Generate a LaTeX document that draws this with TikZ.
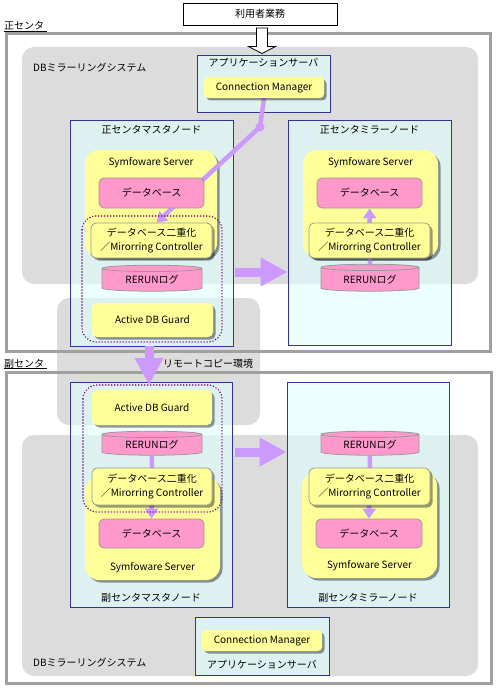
\documentclass[tikz,border=0pt]{standalone}
\usepackage{fontspec}
\setmainfont{Noto Sans CJK JP}
\usetikzlibrary{positioning,arrows.meta,shapes.geometric,shadows}
\definecolor{regiongray}{HTML}{DCDCDC}
\definecolor{framegray}{HTML}{A0A0A0}
\definecolor{hostblue}{HTML}{333399}
\definecolor{hostcyan}{HTML}{E0FFFF}
\definecolor{softyellow}{HTML}{FFFF99}
\definecolor{dbpink}{HTML}{FF99CC}
\definecolor{flowviolet}{HTML}{CC99FF}
\definecolor{guardviolet}{HTML}{800080}
\pgfdeclarelayer{back}
\pgfdeclarelayer{mid}
\pgfsetlayers{back,mid,main}
\begin{document}
\begin{tikzpicture}[x=1pt,y=-1pt,
    every node/.style={font=\fontsize{10}{14}\selectfont,inner sep=0pt},
    region/.style={fill=regiongray,rounded corners=12pt},
    site/.style={draw=framegray,line width=3pt},
    host/.style={draw=hostblue,line width=0.8pt,fill=hostcyan,fill opacity=0.6},
    ybox/.style={fill=softyellow,rounded corners=#1,
      drop shadow={shadow xshift=2.5pt,shadow yshift=-2.5pt,fill=black,opacity=0.4}},
    ybox/.default=5pt,
    dbbox/.style={fill=dbpink,draw=black!40,line width=0.8pt,rounded corners=5pt},
    log/.style={cylinder,shape border rotate=90,aspect=0.12,draw=black!40,line width=0.8pt,
      cylinder uses custom fill,cylinder body fill=dbpink,cylinder end fill=dbpink},
    guard/.style={draw=guardviolet,line width=1.6pt,dash pattern=on 0pt off 3pt,line cap=round,rounded corners=14pt},
    flow/.style={draw=flowviolet,line width=4.5pt,-{Triangle[length=10pt,width=13pt]}},
    bulk/.style={draw=flowviolet,line width=9pt,-{Triangle[length=27pt,width=27pt]}}]
  \useasboundingbox (0,0) rectangle (499,690);
  \begin{pgfonlayer}{back}
  % gray areas
  \fill[region] (22,47) rectangle (478,284);
  \fill[region] (57,298) rectangle (260,425);
  \fill[region] (22,435) rectangle (478,676);
  \draw[site] (6.5,33.5) rectangle (490.5,351.5);
  \draw[site] (6.5,372.5) rectangle (491,683.5);
  \node[anchor=base west] (siteA) at (4,30) {正センタ};
  \draw[line width=0.7pt] ([yshift=-1.5pt]siteA.base west) -- ([xshift=3pt,yshift=-1.5pt]siteA.base east);
  \node[anchor=base west] (siteB) at (4,367) {副センタ};
  \draw[line width=0.7pt] ([yshift=-1.5pt]siteB.base west) -- ([xshift=3pt,yshift=-1.5pt]siteB.base east);
  \node[anchor=base west] (remote) at (163,367) {リモートコピー環境};
  \node[anchor=west] (mirA) at (33,68) {DBミラーリングシステム};
  \node[anchor=west] (mirB) at (33,663) {DBミラーリングシステム};

  % user side
  \node[draw,line width=0.8pt,fill=white,minimum width=154,minimum height=22] (task) at (260,14) {利用者業務};
  \node[host,minimum width=133,minimum height=57] (appA) at (263.5,83.5) {};
  \node[below=3pt of appA.north] (appAtitle) {アプリケーションサーバ};
  \node[host,minimum width=134,minimum height=58] (appB) at (262,646) {};
  \node[above=6pt of appB.south] (appBtitle) {アプリケーションサーバ};

  % node frames
  \node[host,minimum width=163,minimum height=226] (masterA) at (151.5,233) {};
  \node[below=6pt of masterA.north] (masterAtitle) {正センタマスタノード};
  \node[host,minimum width=163,minimum height=225] (mirrorA) at (369.5,232.5) {};
  \node[below=6pt of mirrorA.north] (mirrorAtitle) {正センタミラーノード};
  \node[host,minimum width=162,minimum height=225] (masterB) at (151,494.5) {};
  \node[above=5pt of masterB.south] (masterBtitle) {副センタマスタノード};
  \node[host,minimum width=162,minimum height=225] (mirrorB) at (368,494.5) {};
  \node[above=5pt of mirrorB.south] (mirrorBtitle) {副センタミラーノード};

  % Symfoware Server
  \node[ybox=14pt,minimum width=132,minimum height=107] (symA) at (151,203.5) {};
  \node[below=7pt of symA.north] (symAtitle) {Symfoware Server};
  \node[ybox=14pt,minimum width=135,minimum height=108] (symC) at (370.5,204) {};
  \node[below=7pt of symC.north] (symCtitle) {Symfoware Server};
  \node[ybox=14pt,minimum width=135,minimum height=103] (symB) at (152.5,528.5) {};
  \node[above=7pt of symB.south] (symBtitle) {Symfoware Server};
  \node[ybox=14pt,minimum width=135,minimum height=106] (symD) at (369.5,525) {};
  \node[above=7pt of symD.south] (symDtitle) {Symfoware Server};
  \end{pgfonlayer}

  % request into the application server
  \draw[line width=0.8pt,fill=white] (256.5,28) -- (267.5,28) -- (267.5,46.5) -- (275.5,46.5)
    -- (262,53.5) -- (248.5,46.5) -- (256.5,46.5) -- cycle;
  \node[ybox=4pt,minimum width=120,minimum height=21] (cmA) at (264,87.5) {Connection Manager};
  \node[ybox=4pt,minimum width=120,minimum height=21] (cmB) at (262,640.5) {Connection Manager};

  % main site
  \node[dbbox,minimum width=105,minimum height=30] (dbA) at (151.5,193) {データベース};
  \node[ybox,draw=black!40,line width=0.8pt,minimum width=121,minimum height=35,align=center] (mcA) at (151.5,240.5) {データベース二重化\\／Mirorring Controller};
  \node[log,minimum width=100,minimum height=26] (logA) at (152,280) {RERUNログ};
  \node[ybox,minimum width=121,minimum height=34] (adgA) at (152.5,320) {Active DB Guard};
  \draw[guard] (82,216) rectangle (222,342);

  \node[dbbox,minimum width=105,minimum height=30] (dbC) at (369.5,193) {データベース};
  \node[ybox,draw=black!40,line width=0.8pt,minimum width=121,minimum height=35,align=center] (mcC) at (369.5,240.5) {データベース二重化\\／Mirorring Controller};
  \node[log,minimum width=98,minimum height=27] (logC) at (370,279.5) {RERUNログ};
  \draw[bulk] (235,272) -- (mirrorA.west |- 0,272);

  % backup site
  \draw[bulk] ([xshift=-2.5pt]masterA.south) -- (149,385);
  \node[ybox,minimum width=120,minimum height=35] (adgB) at (152,407.5) {Active DB Guard};
  \node[log,minimum width=100,minimum height=24] (logB) at (152,445) {RERUNログ};
  \node[ybox,draw=black!40,line width=0.8pt,minimum width=120,minimum height=37,align=center] (mcB) at (152,486.5) {データベース二重化\\／Mirorring Controller};
  \node[dbbox,minimum width=105,minimum height=29] (dbB) at (151.5,533.5) {データベース};
  \draw[guard] (83,385) rectangle (222,512);

  \node[log,minimum width=98,minimum height=24] (logD) at (370,445) {RERUNログ};
  \node[ybox,draw=black!40,line width=0.8pt,minimum width=121,minimum height=37,align=center] (mcD) at (369.5,486.5) {データベース二重化\\／Mirorring Controller};
  \node[dbbox,minimum width=106,minimum height=29] (dbD) at (369,533.5) {データベース};
  \draw[bulk] (235,452) -- (mirrorB.west |- 0,452);

  % replication flows
  \begin{pgfonlayer}{mid}
  \coordinate (hub) at (260,127);
  \draw[flow] (cmA.south) -- (hub) -- ([xshift=5pt]mcA.north);
  \fill[flowviolet] (hub) circle (4.5);
  \draw[flow] (logC.north) -- (dbC.south);
  \draw[flow] (logB.south) -- (dbB.north);
  \draw[flow] (logD.south) -- (dbD.north);
  \end{pgfonlayer}
\end{tikzpicture}
\end{document}
